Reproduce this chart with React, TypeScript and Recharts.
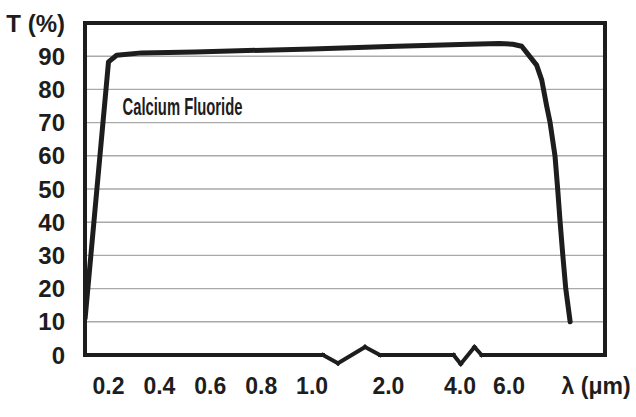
import React from 'react';
import {
  LineChart,
  Line,
  XAxis,
  YAxis,
  CartesianGrid,
  ReferenceLine,
  Customized,
} from 'recharts';

// transmission curve of CaF2, wavelength in µm, T in %
const wavelengths = [
  0.108, 0.2, 0.232, 0.33, 0.54, 1.0, 2.0, 4.0, 5.6, 6.16, 6.52, 7.13, 7.34, 7.54,
  7.68, 7.88, 7.99, 8.09, 8.2, 8.32, 8.5,
];
const transmission = [
  11, 88.3, 90.3, 91.0, 91.3, 92.2, 92.9, 93.5, 93.8, 93.6, 93.0, 87.3, 82.8, 75.0,
  70.0, 60.0, 50.0, 40.0, 30.0, 20.0, 10.0,
];

// broken wavelength axis: tick values and the slot each one sits in
const tickWavelengths = [0.2, 0.4, 0.6, 0.8, 1.0, 2.0, 4.0, 6.0];
const tickLabels = ['0.2', '0.4', '0.6', '0.8', '1.0', '2.0', '4.0', '6.0'];
const tickSlots = [1, 2, 3, 4, 5, 6.5, 7.906, 8.868];
const unitLabel = 'λ (μm)';
const unitSlot = 10.58;

const yTicks = [0, 10, 20, 30, 40, 50, 60, 70, 80, 90, 100];
const yTitle = 'T (%)';
const gridValues = [10, 20, 30, 40, 50, 60, 70, 80, 90];

const X_MIN = 0.538;
const X_MAX = 10.755;

// wavelength -> slot on the broken axis (piecewise linear, extrapolated at ends)
const toSlot = (w: number) => {
  const n = tickWavelengths.length;
  let i = 0;
  if (w >= tickWavelengths[n - 1]) i = n - 2;
  else {
    while (i < n - 2 && w > tickWavelengths[i + 1]) i++;
  }
  const w0 = tickWavelengths[i];
  const w1 = tickWavelengths[i + 1];
  const s0 = tickSlots[i];
  const s1 = tickSlots[i + 1];
  return s0 + ((w - w0) / (w1 - w0)) * (s1 - s0);
};

const data = wavelengths.map((w, i) => ({ slot: toSlot(w), t: transmission[i] }));

// axis breaks drawn into the bottom frame line
const breakA = [
  { x: 5.214, y: 0 },
  { x: 5.509, y: -2.5 },
  { x: 6.04, y: 2.4 },
  { x: 6.334, y: 0 },
];
const breakB = [
  { x: 7.78, y: 0 },
  { x: 7.92, y: -2.7 },
  { x: 8.19, y: 2.4 },
  { x: 8.33, y: 0 },
];

const FONT = "'Liberation Sans Narrow', 'Liberation Sans', Arial, sans-serif";
const INK = '#1d1d1d';

const xTickFormat = (v: number) => {
  if (Math.abs(v - unitSlot) < 0.01) return unitLabel;
  const i = tickSlots.findIndex((s) => Math.abs(s - v) < 0.01);
  return i >= 0 ? tickLabels[i] : '';
};

const yTickFormat = (v: number) => (v === 100 ? yTitle : String(v));

const segs = (pts: { x: number; y: number }[]) =>
  pts.slice(1).map((p, i) => [pts[i], p] as [{ x: number; y: number }, { x: number; y: number }]);

const bottomSegments = [
  [{ x: X_MIN, y: 0 }, breakA[0]],
  ...segs(breakA),
  [breakA[breakA.length - 1], breakB[0]],
  ...segs(breakB),
  [breakB[breakB.length - 1], { x: X_MAX, y: 0 }],
] as [{ x: number; y: number }, { x: number; y: number }][];

const App: React.FC = () => {
  return (
    <div style={{ position: 'absolute', left: 0, top: 0, background: '#fff' }}>
      <LineChart
        width={636}
        height={417}
        data={data}
        margin={{ top: 23, right: 31, left: 0, bottom: 22 }}
      >
        <CartesianGrid
          vertical={false}
          horizontalValues={gridValues}
          stroke="#a9a9a9"
          strokeWidth={1.4}
        />
        <XAxis
          type="number"
          dataKey="slot"
          domain={[X_MIN, X_MAX]}
          allowDataOverflow
          ticks={[...tickSlots, unitSlot]}
          tickFormatter={xTickFormat}
          axisLine={false}
          tickLine={false}
          tickSize={0}
          tickMargin={23}
          height={40}
          interval={0}
          tick={{ fontFamily: FONT, fontSize: 23, fontWeight: 700, fill: INK }}
        />
        <YAxis
          type="number"
          domain={[0, 100]}
          ticks={yTicks}
          tickFormatter={yTickFormat}
          axisLine={false}
          tickLine={false}
          tickSize={0}
          tickMargin={20}
          width={85}
          interval={0}
          tick={{ fontFamily: FONT, fontSize: 24, fontWeight: 700, fill: INK }}
        />
        <Line
          type="linear"
          dataKey="t"
          stroke={INK}
          strokeWidth={5}
          strokeLinejoin="round"
          strokeLinecap="round"
          dot={false}
          activeDot={false}
          isAnimationActive={false}
        />
        {/* frame: left, top, right */}
        <ReferenceLine x={X_MIN} stroke={INK} strokeWidth={4} ifOverflow="visible" />
        <ReferenceLine x={X_MAX} stroke={INK} strokeWidth={4} ifOverflow="visible" />
        <ReferenceLine
          y={100}
          stroke={INK}
          strokeWidth={4}
          strokeLinecap="square"
          ifOverflow="visible"
        />
        {bottomSegments.map((seg, i) => (
          <ReferenceLine
            key={`b-${i}`}
            segment={seg}
            stroke={INK}
            strokeWidth={4}
            strokeLinecap="square"
            strokeLinejoin="miter"
            ifOverflow="visible"
          />
        ))}
        <Customized
          component={() => (
            <text
              x={122.5}
              y={115}
              fontFamily={FONT}
              fontSize={23}
              fontWeight={700}
              fill={INK}
              textLength={120}
              lengthAdjust="spacingAndGlyphs"
            >
              Calcium Fluoride
            </text>
          )}
        />
      </LineChart>
    </div>
  );
};

export default App;
